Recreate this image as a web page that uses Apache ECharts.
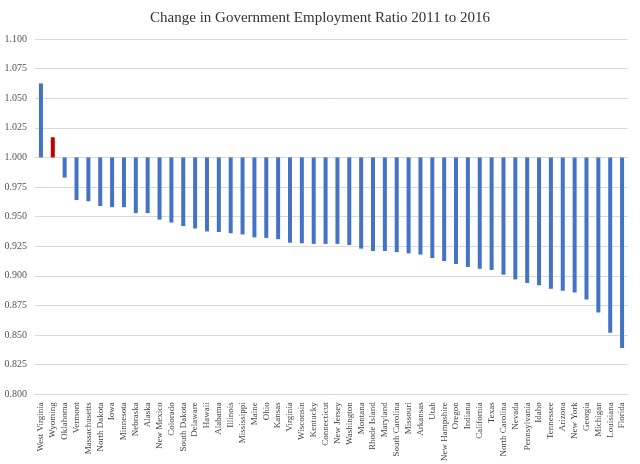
<!DOCTYPE html>
<html><head><meta charset="utf-8">
<script src="https://cdn.jsdelivr.net/npm/echarts@6/dist/echarts.min.js"></script>
<style>body{margin:0;background:#fff}#myChart{width:640px;height:464px}</style>
</head><body>
<div id="myChart"></div>
<script>
window.onload = function(){
var myChart = echarts.init(document.getElementById("myChart"));
// 2016 / 2011 ratio
var states = ['West Virginia','Wyoming','Oklahoma','Vermont','Massachusetts','North Dakota','Iowa','Minnesota','Nebraska','Alaska','New Mexico','Colorado','South Dakota','Delaware','Hawaii','Alabama','Illinois','Mississippi','Maine','Ohio','Kansas','Virginia','Wisconsin','Kentucky','Connecticut','New Jersey','Washington','Montana','Rhode Island','Maryland','South Carolina','Missouri','Arkansas','Utah','New Hampshire','Oregon','Indiana','California','Texas','North Carolina','Nevada','Pennsylvania','Idaho','Tennessee','Arizona','New York','Georgia','Michigan','Louisiana','Florida'];
var ratio = [1.0625,1.017,0.983,0.964,0.963,0.959,0.958,0.958,0.953,0.953,0.9475,0.945,0.942,0.940,0.9375,0.937,0.936,0.935,0.9325,0.932,0.931,0.928,0.9275,0.927,0.927,0.927,0.926,0.923,0.921,0.921,0.920,0.919,0.918,0.915,0.9125,0.910,0.9075,0.906,0.905,0.901,0.897,0.894,0.892,0.889,0.8875,0.886,0.880,0.869,0.852,0.839];
var data = ratio.map(function(v,i){
  return {value:+(v-1).toFixed(4), itemStyle:{color: states[i]=='Wyoming' ? '#C00000' : '#4472C4'}};
});
option = {
  title:{text:'Change in Government Employment Ratio 2011 to 2016',left:'center',top:6,
    textStyle:{fontFamily:'Liberation Serif',fontWeight:'normal',fontSize:15,color:'#333'}},
  grid:{left:35,right:12,top:39,bottom:65},
  xAxis:{type:'category',data:states,
    axisLine:{show:true,onZero:false,lineStyle:{color:'#d9d9d9'}},
    axisTick:{show:false},
    axisLabel:{rotate:90,interval:0,fontFamily:'Liberation Serif',fontSize:9,color:'#444'}},
  yAxis:{type:'value',min:-0.2,max:0.1,interval:0.025,
    axisLine:{show:false},axisTick:{show:false},
    splitLine:{lineStyle:{color:'#d9d9d9'}},
    axisLabel:{fontFamily:'Liberation Serif',fontSize:10,color:'#555',
      formatter:function(v){return (v+1).toFixed(3);}}},
  series:[{type:'bar',barWidth:4,data:data}]
};
myChart.setOption(option);
}
</script>
</body></html>
